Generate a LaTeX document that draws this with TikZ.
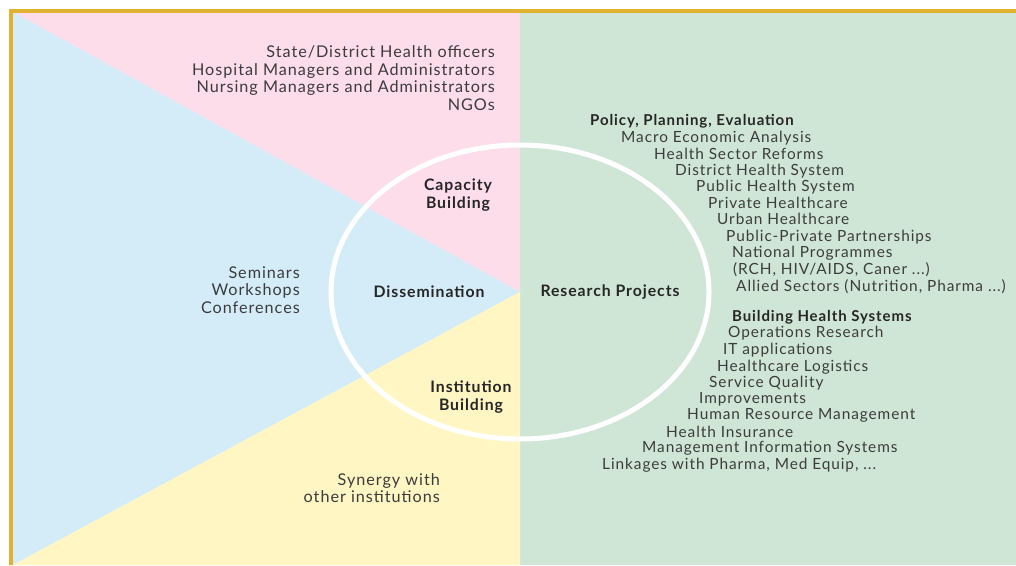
\documentclass[tikz,border=0pt]{standalone}
\usepackage{fontspec}
\setmainfont{Lato}[LetterSpace=6]
\usepackage{xcolor}
\definecolor{pinkbg}{HTML}{FCDDE9}
\definecolor{bluebg}{HTML}{D3ECF8}
\definecolor{yellowbg}{HTML}{FFF6C4}
\definecolor{greenbg}{HTML}{CFE6D6}
\definecolor{goldline}{HTML}{E0B232}
\definecolor{txtgray}{HTML}{3C3C3C}
\tikzset{
  lbl/.style={font=\fontsize{15.4}{17.6}\selectfont, text=txtgray, inner sep=0pt},
  big/.style={font=\fontsize{16.2}{17.8}\selectfont, text=txtgray, inner sep=0pt},
  head/.style={font=\fontsize{15}{18}\selectfont\bfseries, text=black!85, inner sep=0pt},
  bighead/.style={font=\fontsize{15.8}{18}\selectfont\bfseries, text=black!85, inner sep=0pt}
}

\begin{document}
\begin{tikzpicture}[x=1pt, y=-1pt]
  \useasboundingbox (0,0) rectangle (1016,565);
  % Define points
  \coordinate (O) at (520,292);   % centre of the wheel
  \coordinate (TL) at (13,12);
  \coordinate (BL) at (13,565);
  \coordinate (T) at (520,12);
  \coordinate (B) at (520,565);

  % Fill the four sectors
  \fill[greenbg] (T) rectangle (1016,565);
  \fill[pinkbg] (TL) -- (T) -- (O) -- cycle;
  \fill[bluebg] (TL) -- (O) -- (BL) -- cycle;
  \fill[yellowbg] (BL) -- (O) -- (B) -- cycle;

  % Frame
  \draw[goldline, line width=4pt] (10.5,565) -- (10.5,10.5) -- (1016,10.5);

  % White ring
  \draw[white, line width=5pt] (O) ellipse [x radius=189, y radius=147];

  % Labels inside the ring
  \node[bighead, align=center] (cap) at (458,195) {Capacity\\Building};
  \node[bighead] (dis) at (429,292) {Dissemination};
  \node[bighead] (res) at (610,292) {Research Projects};
  \node[bighead, align=center] (ins) at (471,397) {Institution\\Building};

  % Outer labels
  \node[big, align=right, anchor=east] (who) at (495,78)
    {State/District Health officers\\Hospital Managers and Administrators\\
     Nursing Managers and Administrators\\NGOs};
  \node[big, align=right, anchor=east] (sem) at (300,290) {Seminars\\Workshops\\Conferences};
  \node[big, align=right, anchor=east] (syn) at (440,488) {Synergy with\\other institutions};

  % Research list
  \node[head, anchor=west] (ppe) at (590,121) {Policy, Planning, Evaluation};
  \foreach \xx/\yy/\txt [count=\i] in {
      621/138/{Macro Economic Analysis},
      654/154/{Health Sector Reforms},
      675/171/{District Health System},
      696/187/{Public Health System},
      708/203/{Private Healthcare},
      717/219/{Urban Healthcare},
      726/237/{Public-Private Partnerships},
      732/253/{National Programmes},
      733/270/{(RCH, HIV/AIDS, Caner ...)},
      736/287/{Allied Sectors (Nutrition, Pharma ...)}}
    \node[lbl, anchor=west] (ppe\i) at (\xx,\yy) {\txt};

  \node[head, anchor=west] (bhs) at (732,317) {Building Health Systems};
  \foreach \xx/\yy/\txt [count=\i] in {
      728/333/{Operations Research},
      723/350/{IT applications},
      717/367/{Healthcare Logistics},
      709/383/{Service Quality},
      699/399/{Improvements},
      687/415/{Human Resource Management},
      666/432/{Health Insurance},
      642/448/{Management Information Systems},
      602/465/{Linkages with Pharma, Med Equip, ...}}
    \node[lbl, anchor=west] (bhs\i) at (\xx,\yy) {\txt};
\end{tikzpicture}
\end{document}
